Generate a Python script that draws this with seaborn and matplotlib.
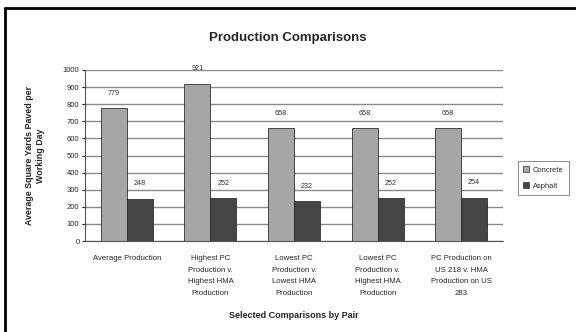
import matplotlib
matplotlib.use("Agg")
import matplotlib.pyplot as plt
import seaborn as sns
import pandas as pd
from matplotlib.lines import Line2D

categories = [
    "Average Production",
    "Highest PC\nProduction v.\nHighest HMA\nProduction",
    "Lowest PC\nProduction v.\nLowest HMA\nProduction",
    "Lowest PC\nProduction v.\nHighest HMA\nProduction",
    "PC Production on\nUS 218 v. HMA\nProduction on US\n283",
]
concrete = [779, 921, 658, 658, 658]
asphalt = [248, 252, 232, 252, 254]
series = ["Concrete", "Asphalt"]
colors = {"Concrete": "#a6a6a6", "Asphalt": "#454545"}

df = pd.DataFrame({
    "Comparison": categories * 2,
    "Value": concrete + asphalt,
    "Type": [series[0]] * len(categories) + [series[1]] * len(categories),
})

sns.set_style("white")
plt.rcParams["font.family"] = ["Liberation Sans", "DejaVu Sans"]

fig = plt.figure(figsize=(5.76, 3.32), dpi=100)
ax = fig.add_axes([85 / 576, 1 - 241 / 332, (503 - 85) / 576, (241 - 70) / 332])

sns.barplot(data=df, x="Comparison", y="Value", hue="Type", order=categories,
            hue_order=series, palette=colors, width=0.62, ax=ax,
            edgecolor="#303030", linewidth=0.6, legend=False)

for cont, vals in zip(ax.containers, [concrete, asphalt]):
    ax.bar_label(cont, labels=[str(v) for v in vals], padding=8, fontsize=5.2,
                 color="#333333")

ax.set_ylim(0, 1000)
ax.set_yticks(range(0, 1001, 100))
ax.tick_params(axis="y", labelsize=5.5, length=2, pad=2, left=True)
ax.tick_params(axis="x", labelsize=5.6, length=0, pad=10)
for lbl in ax.get_xticklabels():
    lbl.set_linespacing(1.95)
ax.yaxis.grid(True, color="#8a8a8a", linewidth=1.0)
ax.set_axisbelow(True)
for s in ["top", "right"]:
    ax.spines[s].set_visible(False)
for s in ["left", "bottom"]:
    ax.spines[s].set_color("#555555")
    ax.spines[s].set_linewidth(0.8)
ax.set_xlim(-0.5, len(categories) - 0.5)

ax.set_xlabel("Selected Comparisons by Pair", fontsize=6.5, fontweight="bold",
              labelpad=10)
ax.set_ylabel("Average Square Yards Paved per\nWorking Day", fontsize=6.4,
              fontweight="bold", labelpad=13)
fig.text(0.5, 1 - 38 / 332, "Production Comparisons", ha="center", va="center",
         fontsize=9.5, fontweight="bold")

handles = [plt.Rectangle((0, 0), 1, 1, facecolor=colors[s], edgecolor="#303030",
                         linewidth=0.5) for s in series]
leg = fig.legend(handles, series, loc="center left",
                 bbox_to_anchor=(514 / 576, 1 - 178 / 332), fontsize=5.4,
                 frameon=True, fancybox=False, edgecolor="#555555",
                 handlelength=0.8, handleheight=0.8, borderpad=0.7,
                 labelspacing=1.1, handletextpad=0.5)
leg.get_frame().set_linewidth(0.6)

# outer chart frame
fig.add_artist(Line2D([5 / 576, 5 / 576], [0, 1 - 8 / 332], transform=fig.transFigure,
                      color="black", linewidth=2))
fig.add_artist(Line2D([5 / 576, 1], [1 - 8 / 332, 1 - 8 / 332],
                      transform=fig.transFigure, color="black", linewidth=2))

fig.savefig("out.png", dpi=100)
